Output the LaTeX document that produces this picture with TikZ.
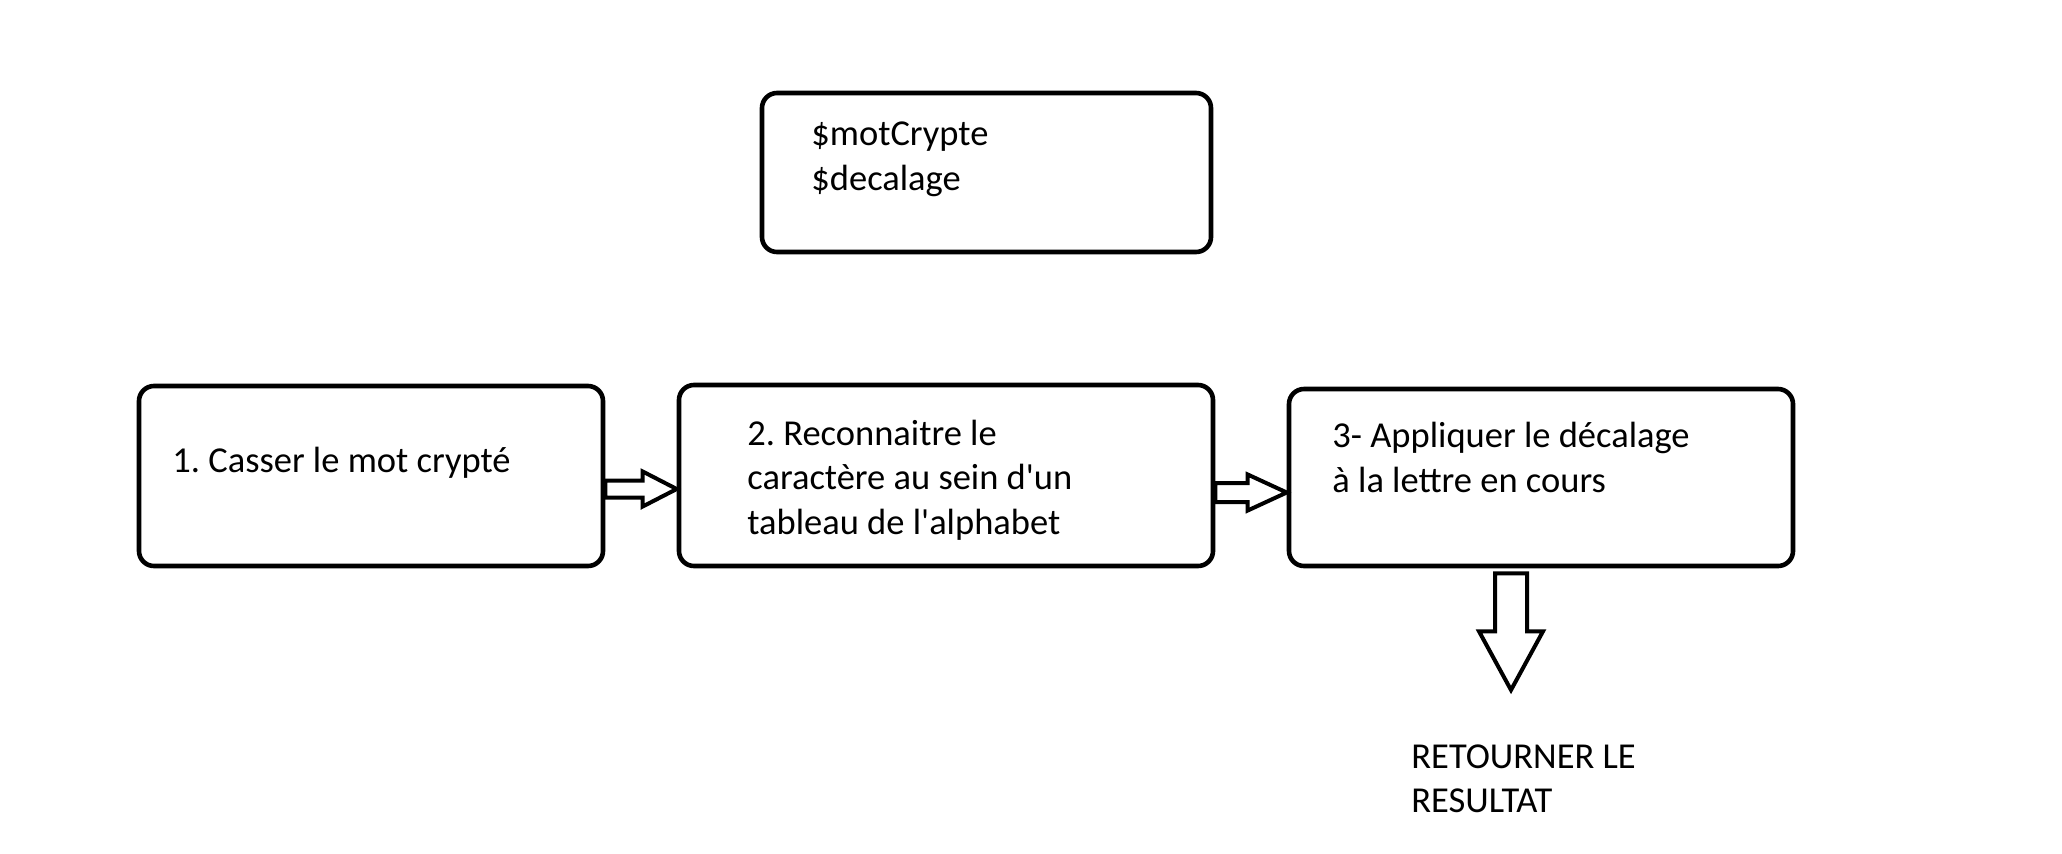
\documentclass[tikz,border=0pt]{standalone}
\usepackage{fontspec}
\setmainfont{Carlito}
\usetikzlibrary{calc}
\frenchspacing
\tikzset{
  x=0.5pt, y=-0.5pt,
  stepbox/.style={draw=black, line width=2.3pt, rounded corners=7.5pt, fill=white, inner sep=0pt},
  lbl/.style={inner sep=0pt, anchor=base west, font=\fontsize{18.25}{22.25}\selectfont, text=black},
  blockarrow/.style={draw=black, line width=2pt, fill=white, line join=miter},
}
\begin{document}
\begin{tikzpicture}
\useasboundingbox[fill=white] (0,0) rectangle (2062,853);
% boxes
\node[stepbox, minimum width=224.5pt, minimum height=79.5pt] (top) at (986.5,172.5) {};
\node[stepbox, minimum width=232pt, minimum height=90pt] (b1) at (371,476) {};
\node[stepbox, minimum width=267pt, minimum height=90.5pt] (b2) at (946,475.5) {};
\node[stepbox, minimum width=252pt, minimum height=88.5pt] (b3) at (1541,477.5) {};
% texts
\node[lbl] (t0a) at (811,145) {\$motCrypte};
\node[lbl] (t0b) at (811,190) {\$decalage};
\node[lbl] (t1) at (172,472) {1. Casser le mot crypté};
\node[lbl] (t2a) at (747,445) {2. Reconnaitre le};
\node[lbl] (t2b) at (747,489) {caractère au sein d\textquotesingle un};
\node[lbl] (t2c) at (747,534) {tableau de l\textquotesingle alphabet};
\node[lbl] (t3a) at (1332,447) {3- Appliquer le décalage};
\node[lbl] (t3b) at (1332,492) {à la lettre en cours};
\node[lbl] (r1) at (1411,768) {RETOURNER LE};
\node[lbl] (r2) at (1411,812) {RESULTAT};
% arrow 1 : b1 -> b2
\coordinate (a1s) at ($(b1.east)+(0,13)$);
\coordinate (a1e) at ($(b2.west)+(0,13.5)$);
\draw[blockarrow] ($(a1s)+(0,-8.5)$) -- ($(a1e)+(-34,-8.5)$) -- ($(a1e)+(-34,-17.5)$) -- (a1e)
  -- ($(a1e)+(-34,17.5)$) -- ($(a1e)+(-34,8.5)$) -- ($(a1s)+(0,8.5)$) -- cycle;
% arrow 2 : b2 -> b3
\coordinate (a2s) at ($(b2.east)+(0,17)$);
\coordinate (a2e) at ($(b3.west)+(0,15)$);
\draw[blockarrow] ($(a2s)+(0,-9.5)$) -- ($(a2e)+(-39,-9.5)$) -- ($(a2e)+(-39,-18)$) -- (a2e)
  -- ($(a2e)+(-39,18)$) -- ($(a2e)+(-39,9.5)$) -- ($(a2s)+(0,9.5)$) -- cycle;
% arrow 3 : b3 -> result
\coordinate (a3s) at ($(b3.south)+(-30,5)$);
\coordinate (a3e) at ($(r1.base west)+(100,-78)$);
\draw[blockarrow] ($(a3s)+(-16,0)$) -- ($(a3s)+(16,0)$) -- ($(a3s)+(16,58)$) -- ($(a3s)+(32,58)$)
  -- (a3e) -- ($(a3s)+(-32,58)$) -- ($(a3s)+(-16,58)$) -- cycle;
\end{tikzpicture}
\end{document}
